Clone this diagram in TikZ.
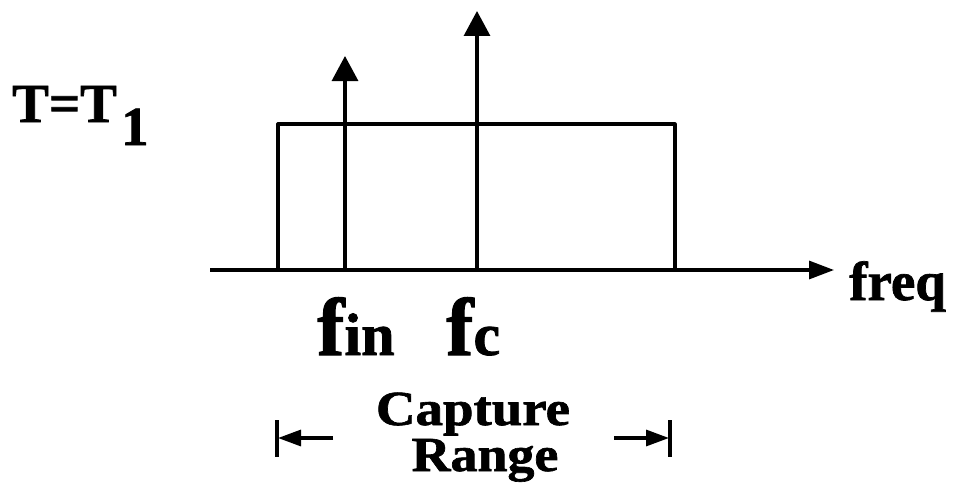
\documentclass[tikz,border=0pt]{standalone}
\usepackage{fontspec}
\setmainfont{Liberation Serif}
\newfontface\heavy[FakeBold=1.3]{Liberation Serif Bold}
\usetikzlibrary{arrows.meta}
\begin{document}
\begin{tikzpicture}[x=1pt,y=-1pt,
  ln/.style={line width=3.2pt},
  big/.style={arrows={-Triangle[width=26pt,length=25pt]}},
  ax/.style={arrows={-Triangle[width=18pt,length=25pt]}},
  rng/.style={arrows={-Triangle[width=16pt,length=23pt]}},
  lbl/.style={inner sep=0pt,font=\heavy\fontsize{55}{55}\selectfont},
  cr/.style={inner sep=0pt,font=\heavy\fontsize{49}{49}\selectfont}]
\useasboundingbox (0,0) rectangle (957,503);
% axis
\coordinate (a0) at (210,270);
\coordinate (a1) at (834,270);
\draw[ln,ax] (a0) -- (a1);
\node[lbl,anchor=base west] (freq) at (849,300) {freq};
% capture rectangle
\coordinate (r0) at (278,270);
\coordinate (r1) at (675,124);
\draw[ln,line join=round] (r0) |- (r1) -- (r1 |- r0);
% spectral lines
\coordinate (fin0) at (345,270);
\coordinate (fin1) at (345,56);
\draw[ln,big] (fin0) -- (fin1);
\coordinate (fc0) at (477,270);
\coordinate (fc1) at (477,11);
\draw[ln,big] (fc0) -- (fc1);
% labels
\node[lbl,anchor=base west] (T) at (12,122) {T=T};
\node[lbl,anchor=base west] (T1) at (121,145) {1};
\node[inner sep=0pt,anchor=base west,font=\heavy] (fin) at (317,355)
  {{\fontsize{82}{82}\selectfont f}{\fontsize{60}{60}\selectfont in}};
\node[inner sep=0pt,anchor=base west,font=\heavy] (fc) at (446,355)
  {{\fontsize{82}{82}\selectfont f}{\fontsize{60}{60}\selectfont c}};
\node[cr,anchor=base,text depth=0pt] (cap) at (473,425) {\scalebox{1.12}[1]{Capture}};
\node[cr,anchor=base,text height=33pt] (rg) at (485,471) {\scalebox{1.1}[1]{Range}};
% capture range arrows
\coordinate (lb0) at (277,420);
\coordinate (lb1) at (277,457);
\coordinate (ls) at (333,438);
\coordinate (lt) at (278,438);
\draw[ln] (lb0) -- (lb1);
\draw[ln,rng] (ls) -- (lt);
\coordinate (rb0) at (670,420);
\coordinate (rb1) at (670,457);
\coordinate (rs) at (614,438);
\coordinate (rt) at (669,438);
\draw[ln] (rb0) -- (rb1);
\draw[ln,rng] (rs) -- (rt);
\end{tikzpicture}
\end{document}
